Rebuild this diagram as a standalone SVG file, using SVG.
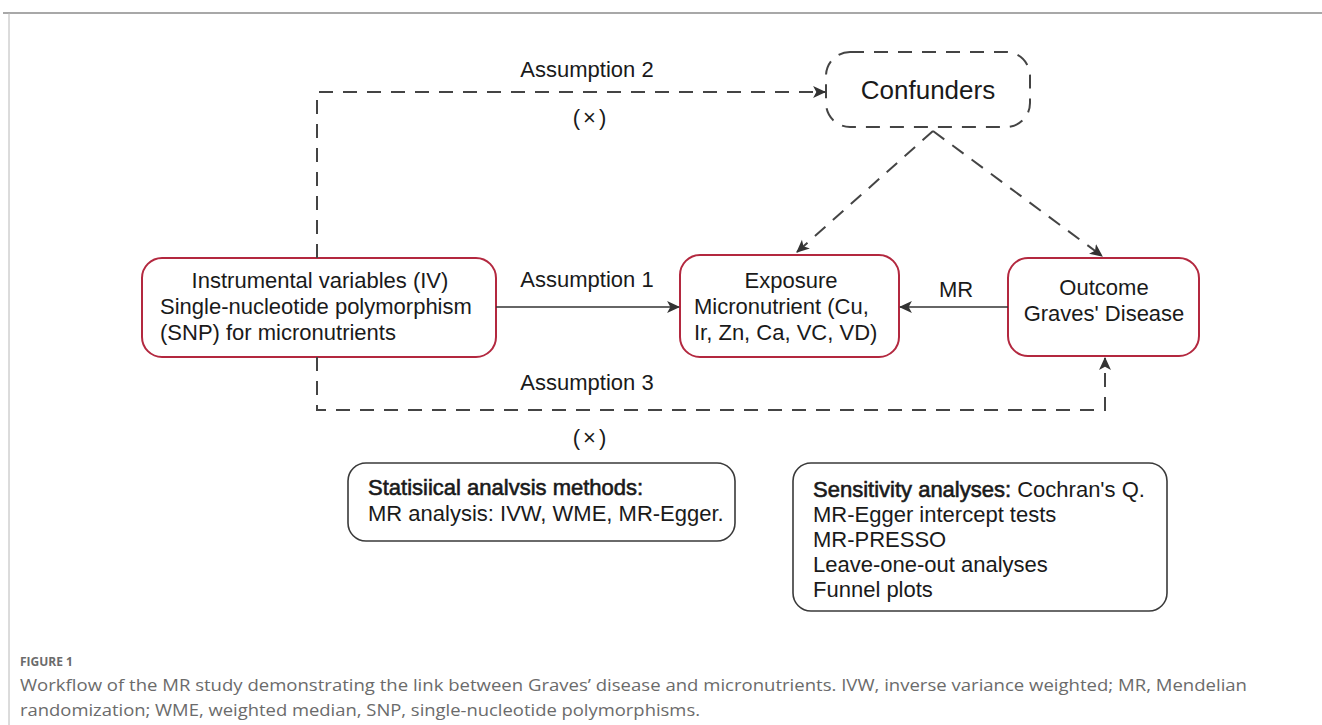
<svg xmlns="http://www.w3.org/2000/svg" width="1322" height="725" viewBox="0 0 1322 725">
<style>
text{font-family:"Liberation Sans",Arial,sans-serif;fill:#1a1a1a}
.t{font-size:22px}
.semi{stroke:#1a1a1a;stroke-width:0.6}
.red{fill:#fff;stroke:#b3283f;stroke-width:2}
.blk{fill:#fff;stroke:#3a3a3a;stroke-width:1.6}
.dash{fill:none;stroke:#444;stroke-width:2;stroke-dasharray:14 10}
.solid{fill:none;stroke:#333;stroke-width:1.6}
.x{font-size:22px;letter-spacing:3px}
.cap{font-family:"Liberation Sans Narrow","Open Sans",sans-serif;fill:#6b6b6b}
</style>
<defs>
<marker id="ah" viewBox="0 0 12 12" refX="11" refY="6" markerWidth="13" markerHeight="13" markerUnits="userSpaceOnUse" orient="auto">
<path d="M0,0.5 L12,6 L0,11.5 L3,6 Z" fill="#333"/>
</marker>
</defs>
<rect width="1322" height="725" fill="#fff"/>
<g id="frame">
<line x1="3" y1="13" x2="1322" y2="13" stroke="#a8a8a8" stroke-width="2"/>
<line x1="9" y1="13" x2="9" y2="725" stroke="#b8b8b8" stroke-width="1"/>
</g>
<g id="confounders">
<rect x="826" y="52" width="204" height="75" rx="24" fill="#fff" stroke="#444" stroke-width="2" stroke-dasharray="14 10"/>
<text x="928" y="99" text-anchor="middle" font-size="26">Confunders</text>
</g>
<g id="iv">
<rect class="red" x="142" y="258" width="354" height="99" rx="20"/>
<text class="t" x="320" y="288" text-anchor="middle">Instrumental variables (IV)</text>
<text class="t" x="160" y="314">Single-nucleotide polymorphism</text>
<text class="t" x="160" y="340">(SNP) for micronutrients</text>
</g>
<g id="exposure">
<rect class="red" x="680" y="255" width="219" height="102" rx="20"/>
<text class="t" x="791" y="288" text-anchor="middle">Exposure</text>
<text class="t" x="694" y="314">Micronutrient (Cu,</text>
<text class="t" x="694" y="340">Ir, Zn, Ca, VC, VD)</text>
</g>
<g id="outcome">
<rect class="red" x="1008" y="258" width="191" height="98" rx="20"/>
<text class="t" x="1104" y="295" text-anchor="middle">Outcome</text>
<text class="t" x="1104" y="321" text-anchor="middle">Graves' Disease</text>
</g>
<g id="stats">
<rect class="blk" x="348" y="463" width="387" height="78" rx="18"/>
<text class="t semi" x="368" y="495">Statisiical analvsis methods:</text>
<text class="t" x="368" y="521">MR analysis: IVW, WME, MR-Egger.</text>
</g>
<g id="sensitivity">
<rect class="blk" x="793" y="463" width="374" height="148" rx="18"/>
<text class="t" x="813" y="497"><tspan class="semi">Sensitivity analyses:</tspan> Cochran's Q.</text>
<text class="t" x="813" y="522">MR-Egger intercept tests</text>
<text class="t" x="813" y="547">MR-PRESSO</text>
<text class="t" x="813" y="572">Leave-one-out analyses</text>
<text class="t" x="813" y="597">Funnel plots</text>
</g>
<g id="connectors">
<path class="dash" d="M317,258 V92 H825" marker-end="url(#ah)"/>
<path class="dash" d="M317,357 V410 H1105 V358" marker-end="url(#ah)"/>
<path class="dash" d="M933,131 L797,252" marker-end="url(#ah)"/>
<path class="dash" d="M933,131 L1102,256" marker-end="url(#ah)"/>
<line class="solid" x1="496" y1="307" x2="679" y2="307" marker-end="url(#ah)"/>
<line class="solid" x1="1008" y1="307" x2="900" y2="307" marker-end="url(#ah)"/>
<text class="t" x="587" y="77" text-anchor="middle">Assumption 2</text>
<text class="x" x="591" y="125" text-anchor="middle">(×)</text>
<text class="t" x="587" y="287" text-anchor="middle">Assumption 1</text>
<text class="t" x="956" y="297" text-anchor="middle">MR</text>
<text class="t" x="587" y="390" text-anchor="middle">Assumption 3</text>
<text class="x" x="591" y="445" text-anchor="middle">(×)</text>
</g>
<g id="caption">
<text class="cap" x="20" y="666" font-size="12" font-weight="bold">FIGURE 1</text>
<text class="cap" x="20" y="691" font-size="16" textLength="1227" lengthAdjust="spacingAndGlyphs">Workflow of the MR study demonstrating the link between Graves’ disease and micronutrients. IVW, inverse variance weighted; MR, Mendelian</text>
<text class="cap" x="20" y="716" font-size="16" textLength="680" lengthAdjust="spacingAndGlyphs">randomization; WME, weighted median, SNP, single-nucleotide polymorphisms.</text>
</g>
</svg>
